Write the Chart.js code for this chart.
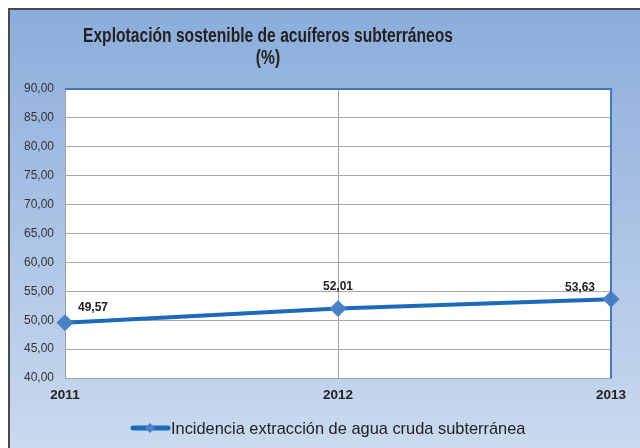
<!DOCTYPE html>
<html>
<head>
<meta charset="utf-8">
<script src="https://cdn.jsdelivr.net/npm/chart.js@4.4.1/dist/chart.umd.min.js"></script>
<style>
  html, body { margin: 0; padding: 0; background: #fff; }
  #wrap { width: 640px; height: 448px; }
</style>
</head>
<body>
<div id="wrap"><canvas id="chart" width="640" height="448"></canvas></div>
<script>
const years = ["2011", "2012", "2013"];
const incidencia = [49.57, 52.01, 53.63];
const titleLines = ["Explotación sostenible de acuíferos subterráneos", "(%)"];
const seriesName = "Incidencia extracción de agua cruda subterránea";

const fmt = (v) => v.toFixed(2).replace(".", ",");

// fondo degradado, marco exterior y borde del área de trazado
const frame = {
  id: "frame",
  beforeDraw(chart) {
    const { ctx, chartArea: a } = chart;
    ctx.save();
    const g = ctx.createLinearGradient(0, 8, 0, 448);
    g.addColorStop(0, "#8BADDB");
    g.addColorStop(1, "#CADAEF");
    ctx.fillStyle = g;
    ctx.fillRect(9, 9, 631, 439);
    ctx.strokeStyle = "#4a4a4a";
    ctx.lineWidth = 2;
    ctx.beginPath();
    ctx.moveTo(9, 448);
    ctx.lineTo(9, 9);
    ctx.lineTo(640, 9);
    ctx.stroke();
    ctx.fillStyle = "#ffffff";
    ctx.fillRect(a.left, a.top, a.right - a.left, a.bottom - a.top);
    ctx.restore();
  },
  afterDatasetsDraw(chart) {
    const { ctx, chartArea: a } = chart;
    ctx.save();
    ctx.strokeStyle = "#4677BE";
    ctx.lineWidth = 2;
    ctx.beginPath();
    ctx.moveTo(a.left, a.top);
    ctx.lineTo(a.right, a.top);
    ctx.lineTo(a.right, a.bottom);
    ctx.stroke();
    ctx.restore();
  },
  afterDraw(chart) {
    const { ctx } = chart;
    ctx.save();
    // título
    ctx.fillStyle = "#222222";
    ctx.textAlign = "center";
    ctx.textBaseline = "middle";
    ctx.font = 'bold 20px "Liberation Sans Narrow", "Liberation Sans", Arial, sans-serif';
    const w = ctx.measureText(titleLines[0]).width;
    const sx = Math.min(1, 370 / w);
    ctx.translate(268, 0);
    ctx.scale(sx, 1);
    ctx.fillText(titleLines[0], 0, 36);
    ctx.fillText(titleLines[1], 0, 58);
    ctx.restore();

    // leyenda
    ctx.save();
    ctx.strokeStyle = "#1B6BBA";
    ctx.lineWidth = 5;
    ctx.lineCap = "round";
    ctx.beginPath();
    ctx.moveTo(133, 428);
    ctx.lineTo(168, 428);
    ctx.stroke();
    ctx.fillStyle = "#4A80C8";
    ctx.beginPath();
    ctx.moveTo(150, 423);
    ctx.lineTo(155, 428);
    ctx.lineTo(150, 433);
    ctx.lineTo(145, 428);
    ctx.closePath();
    ctx.fill();
    ctx.fillStyle = "#222222";
    ctx.font = '16.4px "Liberation Sans", Arial, sans-serif';
    ctx.textAlign = "left";
    ctx.textBaseline = "middle";
    ctx.fillText(seriesName, 171, 429);
    ctx.restore();

    // etiquetas de datos
    const offsets = [[28, -15], [0, -22], [-31, -12]];
    const meta = chart.getDatasetMeta(0);
    ctx.save();
    ctx.fillStyle = "#222222";
    ctx.font = 'bold 12px "Liberation Sans", Arial, sans-serif';
    ctx.textAlign = "center";
    ctx.textBaseline = "middle";
    meta.data.forEach((pt, i) => {
      ctx.fillText(fmt(incidencia[i]), pt.x + offsets[i][0], pt.y + offsets[i][1]);
    });
    ctx.restore();
  },
};

new Chart(document.getElementById("chart"), {
  type: "line",
  data: {
    labels: years,
    datasets: [
      {
        label: seriesName,
        data: incidencia,
        borderColor: "#1B6BBA",
        borderWidth: 4,
        pointStyle: "rectRot",
        pointRadius: 8,
        pointHoverRadius: 8,
        pointBackgroundColor: "#4A80C8",
        pointBorderColor: "#4A80C8",
        pointBorderWidth: 1,
        tension: 0,
        clip: false,
      },
    ],
  },
  options: {
    responsive: false,
    animation: false,
    layout: { padding: { top: 89, right: 29, bottom: 40, left: 0 } },
    plugins: {
      legend: { display: false },
      title: { display: false },
      tooltip: { enabled: false },
    },
    scales: {
      x: {
        offset: false,
        grid: { color: "#A0A0A0", lineWidth: 1, drawTicks: false },
        border: { color: "#A0A0A0", width: 1 },
        ticks: {
          color: "#222222",
          font: { family: '"Liberation Sans", Arial, sans-serif', size: 13.5, weight: "bold" },
          padding: 9,
          maxRotation: 0,
        },
        afterFit: (s) => { s.height = 30; },
      },
      y: {
        min: 40,
        max: 90,
        grid: { color: "#A8A8A8", lineWidth: 1, drawTicks: false },
        border: { color: "#A0A0A0", width: 1 },
        ticks: {
          stepSize: 5,
          color: "#333333",
          font: { family: '"Liberation Sans", Arial, sans-serif', size: 12 },
          padding: 11,
          callback: (v) => fmt(v),
        },
        afterFit: (s) => { s.width = 65; },
      },
    },
  },
  plugins: [frame],
});
</script>
</body>
</html>
